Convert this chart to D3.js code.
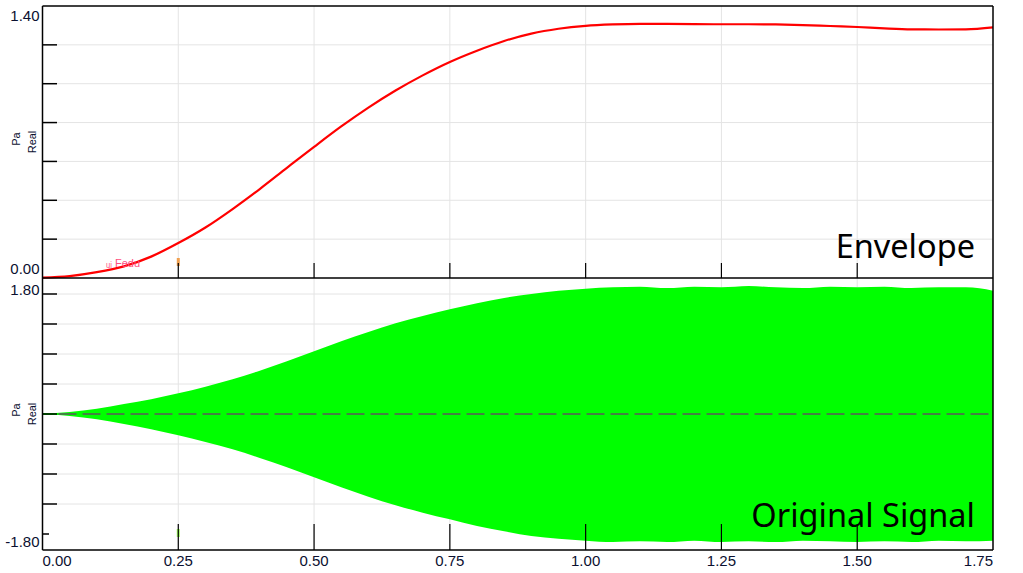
<!DOCTYPE html>
<html>
<head>
<meta charset="utf-8">
<script src="https://cdn.jsdelivr.net/npm/d3@7"></script>
<style>
  html, body { margin: 0; padding: 0; background: #fff; }
  svg { display: block; }
</style>
</head>
<body>
<svg id="chart" width="1023" height="573"></svg>
<script>
// ---------- data ----------
const timeTicks = [0, 0.25, 0.5, 0.75, 1.0, 1.25, 1.5, 1.75];
const envTimes = [0,0.05,0.10,0.15,0.20,0.25,0.30,0.35,0.40,0.45,0.50,0.55,0.60,0.65,0.70,0.75,0.80,0.85,0.90,0.95,1.00,1.05,1.10,1.15,1.20,1.25,1.30,1.35,1.40,1.45,1.50,1.55,1.60,1.65,1.70,1.75];
const envelopeValues = [0.002,0.010,0.030,0.060,0.110,0.180,0.260,0.355,0.458,0.567,0.675,0.780,0.877,0.965,1.043,1.112,1.170,1.220,1.258,1.283,1.298,1.305,1.308,1.308,1.307,1.306,1.306,1.305,1.302,1.297,1.292,1.285,1.280,1.279,1.280,1.290];
const signalUpper = [0.00,0.03,0.08,0.15,0.22,0.31,0.41,0.52,0.65,0.79,0.94,1.09,1.23,1.36,1.47,1.57,1.66,1.74,1.80,1.85,1.88,1.90,1.91,1.89,1.91,1.90,1.92,1.90,1.89,1.91,1.90,1.91,1.89,1.90,1.90,1.85];
const signalLower = [0.00,-0.03,-0.08,-0.15,-0.23,-0.32,-0.42,-0.53,-0.66,-0.80,-0.95,-1.10,-1.24,-1.37,-1.48,-1.58,-1.68,-1.76,-1.83,-1.87,-1.90,-1.92,-1.91,-1.92,-1.90,-1.92,-1.91,-1.92,-1.90,-1.91,-1.92,-1.91,-1.92,-1.90,-1.91,-1.90];
const topTicks = [0.2, 0.4, 0.6, 0.8, 1.0, 1.2];
const topLabels = ["0.00", "1.40"];
const bottomTicks = [-1.35, -0.9, -0.45, 0, 0.45, 0.9, 1.35, 1.8];
const bottomLabels = ["-1.80", "1.80"];
const yUnit = "Pa", yPart = "Real";
const titleTop = "Envelope", titleBottom = "Original Signal";

// ---------- layout ----------
const svg = d3.select("#chart");
const L = 42.5, R = 993, T1 = 6, B1 = 278, T2 = 278, B2 = 550;
const x = d3.scaleLinear().domain([0, 1.75]).range([L, R]);
const y1 = d3.scaleLinear().domain([0, 1.4]).range([B1, T1]);
const y2 = d3.scaleLinear().domain([-2.04, 2.04]).range([B2, T2]);
const grid = "#e4e4e4";
const labelFont = "Liberation Sans, Arial, sans-serif";
const labelColor = "#0b1030";

// gridlines
const g = svg.append("g");
g.selectAll(".hg1").data(topTicks).join("line")
  .attr("x1", 57).attr("x2", R).attr("y1", d => y1(d)).attr("y2", d => y1(d))
  .attr("stroke", grid).attr("stroke-width", 1);
g.selectAll(".hg2").data(bottomTicks).join("line")
  .attr("x1", 57).attr("x2", R).attr("y1", d => y2(d)).attr("y2", d => y2(d))
  .attr("stroke", grid).attr("stroke-width", 1);
g.selectAll(".vg").data(timeTicks.slice(1, -1)).join("line")
  .attr("x1", d => x(d)).attr("x2", d => x(d)).attr("y1", T1).attr("y2", B2)
  .attr("stroke", grid).attr("stroke-width", 1);

// green signal band
const sig = envTimes.map((t, i) => ({t, hi: signalUpper[i], lo: signalLower[i]}));
svg.append("path").datum(sig)
  .attr("d", d3.area().x(d => x(d.t)).y0(d => y2(d.lo)).y1(d => y2(d.hi)).curve(d3.curveMonotoneX))
  .attr("fill", "#00ff00");
// thin zero line of signal at start
svg.append("line").attr("x1", L).attr("x2", L + 16).attr("y1", y2(0)).attr("y2", y2(0))
  .attr("stroke", "#00ff00").attr("stroke-width", 2);
// dashed zero line
svg.append("line").attr("x1", L + 16).attr("x2", R).attr("y1", y2(0)).attr("y2", y2(0))
  .attr("stroke", "#5a5a5a").attr("stroke-width", 1.4).attr("stroke-dasharray", "18,6");

// envelope line
const env = envTimes.map((t, i) => ({t, v: envelopeValues[i]}));
svg.append("path").datum(env)
  .attr("d", d3.line().x(d => x(d.t)).y(d => y1(d.v)).curve(d3.curveMonotoneX))
  .attr("fill", "none").attr("stroke", "#ff0000").attr("stroke-width", 2.2);

// cursor artefacts
svg.append("text").attr("x", 106).attr("y", 267).attr("font-family", labelFont).attr("font-size", 11)
  .attr("fill", "#ff4d80").text("ᵤᵢ Fedu");
svg.append("rect").attr("x", x(0.25) - 1.5).attr("y", 258).attr("width", 3).attr("height", 8).attr("fill", "#f0a050");
svg.append("rect").attr("x", x(0.25) - 1.5).attr("y", 529).attr("width", 3).attr("height", 8).attr("fill", "#a0ff60");

// axes frame
const ax = svg.append("g").attr("stroke", "#000").attr("stroke-width", 1.5);
ax.append("line").attr("x1", L).attr("x2", L).attr("y1", T1).attr("y2", B2);
ax.append("line").attr("x1", L).attr("x2", R).attr("y1", T1).attr("y2", T1);
ax.append("line").attr("x1", R).attr("x2", R).attr("y1", T1).attr("y2", B2);
ax.append("line").attr("x1", L).attr("x2", R).attr("y1", B1).attr("y2", B1);
ax.append("line").attr("x1", L).attr("x2", R).attr("y1", B2).attr("y2", B2);

// y ticks
ax.selectAll(".yt1").data(topTicks).join("line")
  .attr("x1", L).attr("x2", 57).attr("y1", d => y1(d)).attr("y2", d => y1(d));
ax.selectAll(".yt2").data(bottomTicks).join("line")
  .attr("x1", L).attr("x2", 57).attr("y1", d => y2(d)).attr("y2", d => y2(d));
ax.append("line").attr("x1", L).attr("x2", 49).attr("y1", y2(-1.8)).attr("y2", y2(-1.8));

// x ticks
const xt = timeTicks.slice(1, -1);
ax.selectAll(".xt1").data(xt).join("line")
  .attr("x1", d => x(d)).attr("x2", d => x(d)).attr("y1", B1).attr("y2", B1 - 15).attr("stroke-width", 1.2);
ax.selectAll(".xt2").data(xt).join("line")
  .attr("x1", d => x(d)).attr("x2", d => x(d)).attr("y1", B2).attr("y2", B2 - 26).attr("stroke-width", 1.2);

// x labels
const fmt = d3.format(".2f");
svg.selectAll(".xl").data(timeTicks).join("text")
  .attr("x", (d, i) => i === 0 ? L : (i === timeTicks.length - 1 ? R : x(d)))
  .attr("y", 566)
  .attr("text-anchor", (d, i) => i === 0 ? "start" : (i === timeTicks.length - 1 ? "end" : "middle"))
  .attr("font-family", labelFont).attr("font-size", 15).attr("fill", labelColor)
  .text(d => fmt(d));

// y labels
const yl = [
  {t: topLabels[1], y: 21}, {t: topLabels[0], y: 274},
  {t: bottomLabels[1], y: 295}, {t: bottomLabels[0], y: 547}
];
svg.selectAll(".yl").data(yl).join("text")
  .attr("x", 39.5).attr("y", d => d.y).attr("text-anchor", "end")
  .attr("font-family", labelFont).attr("font-size", 15).attr("fill", labelColor)
  .text(d => d.t);

// unit labels
[[139, 142], [410, 414]].forEach(([cyPa, cyReal]) => {
  svg.append("text").attr("transform", `translate(20,${cyPa}) rotate(-90)`)
    .attr("text-anchor", "middle").attr("font-family", labelFont).attr("font-size", 11).attr("fill", labelColor).text(yUnit);
  svg.append("text").attr("transform", `translate(36,${cyReal}) rotate(-90)`)
    .attr("text-anchor", "middle").attr("font-family", labelFont).attr("font-size", 11).attr("fill", labelColor).text(yPart);
});

// panel titles
svg.append("text").attr("x", 975).attr("y", 258).attr("text-anchor", "end")
  .attr("font-family", "Noto Sans, Open Sans, sans-serif").attr("font-size", 32.5).attr("fill", "#000").text(titleTop);
svg.append("text").attr("x", 975).attr("y", 527).attr("text-anchor", "end")
  .attr("font-family", "Noto Sans, Open Sans, sans-serif").attr("font-size", 32.5).attr("fill", "#000").text(titleBottom);
</script>
</body>
</html>
